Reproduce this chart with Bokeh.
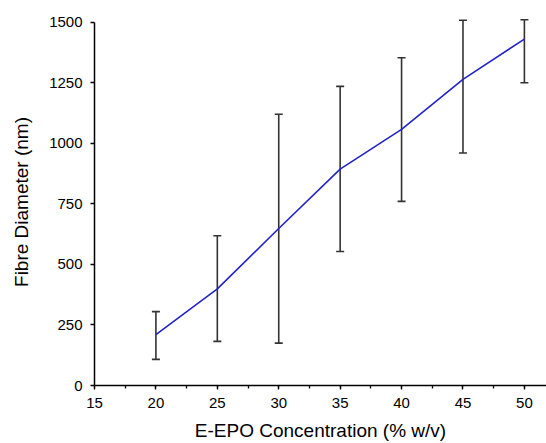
from bokeh.plotting import figure
from bokeh.models import ColumnDataSource, Whisker, TeeHead, Range1d, SingleIntervalTicker
from bokeh.embed import file_html
from bokeh.resources import INLINE

concentration = [20, 25, 30, 35, 40, 45, 50]
diameter = [210, 399, 648, 893, 1057, 1264, 1430]
err_upper = [305, 618, 1120, 1235, 1353, 1508, 1510]
err_lower = [108, 182, 175, 553, 760, 960, 1250]

src = ColumnDataSource(dict(x=concentration, y=diameter, upper=err_upper, lower=err_lower))

p = figure(width=546, height=443, output_backend="svg", toolbar_location=None,
           x_range=Range1d(15, 51.8), y_range=Range1d(0, 1515))
p.min_border_left = 94
p.min_border_right = 0
p.min_border_top = 18
p.min_border_bottom = 56
p.outline_line_color = None
p.xgrid.visible = False
p.ygrid.visible = False
p.background_fill_color = "white"
p.border_fill_color = "white"

p.line("x", "y", source=src, line_color="#2323c8", line_width=1.6)

w = Whisker(base="x", upper="upper", lower="lower", source=src,
            line_color="#333333", line_width=1.6,
            upper_head=TeeHead(size=8, line_color="#333333", line_width=1.6),
            lower_head=TeeHead(size=8, line_color="#333333", line_width=1.6))
p.add_layout(w)

FONT = "Liberation Sans"
xa = p.xaxis[0]
ya = p.yaxis[0]
xa.ticker = SingleIntervalTicker(interval=5, num_minor_ticks=2)
ya.ticker = SingleIntervalTicker(interval=250, num_minor_ticks=0)
ya.bounds = (0, 1500)
for ax in (xa, ya):
    ax.axis_line_color = "black"
    ax.axis_line_width = 1.5
    ax.major_tick_line_color = "black"
    ax.major_tick_line_width = 1.3
    ax.minor_tick_line_color = "black"
    ax.minor_tick_line_width = 1.3
    ax.major_tick_in = 0
    ax.major_tick_out = 4
    ax.minor_tick_in = 0
    ax.minor_tick_out = 3
    ax.major_label_text_font = FONT
    ax.major_label_text_font_size = "15px"
    ax.major_label_text_color = "black"
    ax.axis_label_text_font = FONT
    ax.axis_label_text_font_size = "19px"
    ax.axis_label_text_font_style = "normal"
    ax.axis_label_text_color = "black"

xa.axis_label = "E-EPO Concentration (% w/v)"
ya.axis_label = "Fibre Diameter (nm)"
xa.major_label_standoff = 8
ya.major_label_standoff = 8
xa.axis_label_standoff = 9
ya.axis_label_standoff = 14

open("out.html", "w").write(file_html(p, INLINE))
